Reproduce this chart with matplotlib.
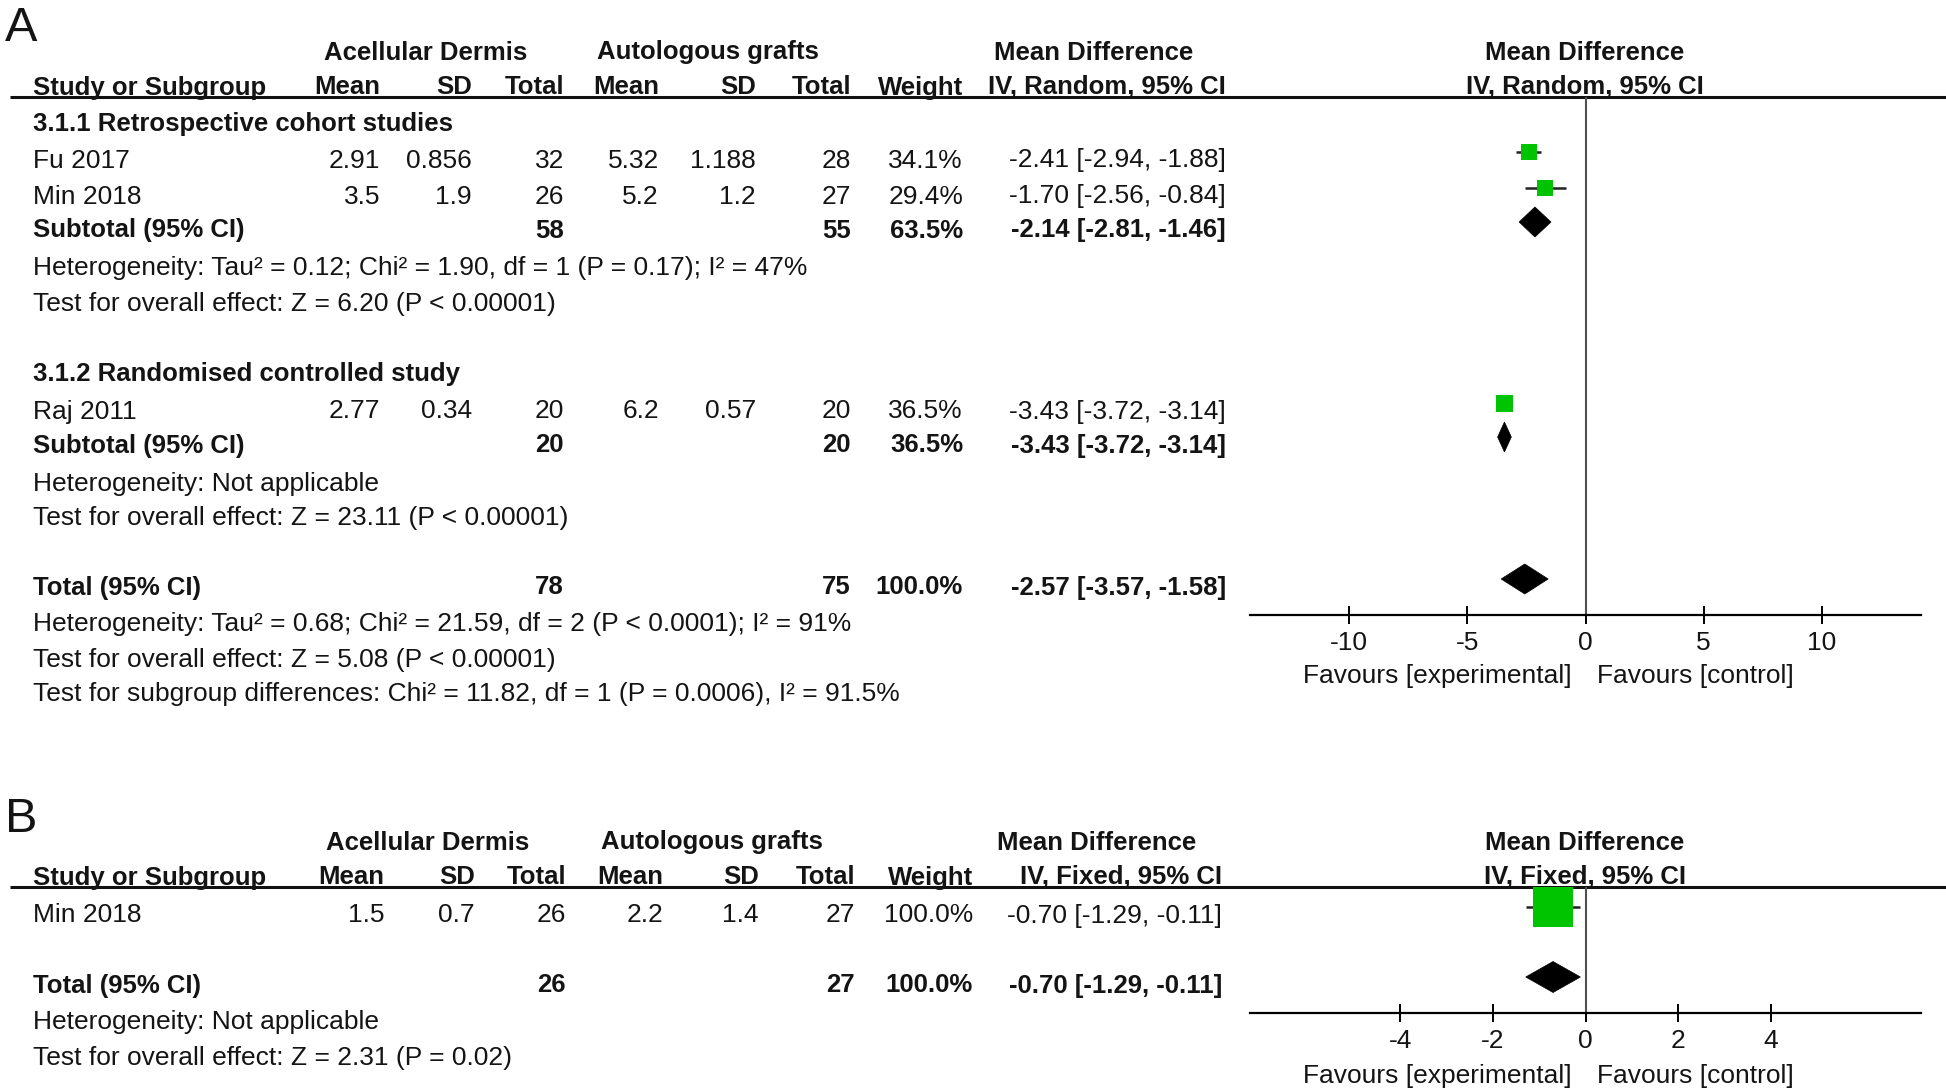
"""
Forest plots: acellular dermis vs autologous grafts (panels A and B).
"""

import numpy as np
import matplotlib

matplotlib.use("Agg")
import matplotlib.pyplot as plt
from matplotlib.patches import Polygon

plt.rcParams["font.family"] = ["Liberation Sans", "DejaVu Sans"]
plt.rcParams["axes.unicode_minus"] = False

# ── Panel A data ──────────────────────────────────────────────────────────────
a_groups = ["3.1.1 Retrospective cohort studies", "3.1.2 Randomised controlled study"]
a_studies = ["Fu 2017", "Min 2018", "Raj 2011"]
a_study_group = [0, 0, 1]
a_exp_mean = [2.91, 3.5, 2.77]
a_exp_sd = [0.856, 1.9, 0.34]
a_exp_n = [32, 26, 20]
a_ctl_mean = [5.32, 5.2, 6.2]
a_ctl_sd = [1.188, 1.2, 0.57]
a_ctl_n = [28, 27, 20]
a_weight = [34.1, 29.4, 36.5]
a_md = [-2.41, -1.70, -3.43]
a_lo = [-2.94, -2.56, -3.72]
a_hi = [-1.88, -0.84, -3.14]

a_sub_exp_n = [58, 20]
a_sub_ctl_n = [55, 20]
a_sub_weight = [63.5, 36.5]
a_sub_md = [-2.14, -3.43]
a_sub_lo = [-2.81, -3.72]
a_sub_hi = [-1.46, -3.14]
a_sub_het = ["Heterogeneity: Tau² = 0.12; Chi² = 1.90, df = 1 (P = 0.17); I² = 47%",
             "Heterogeneity: Not applicable"]
a_sub_test = ["Test for overall effect: Z = 6.20 (P < 0.00001)",
              "Test for overall effect: Z = 23.11 (P < 0.00001)"]

a_tot_exp_n, a_tot_ctl_n, a_tot_weight = 78, 75, 100.0
a_tot_md, a_tot_lo, a_tot_hi = -2.57, -3.57, -1.58
a_tot_notes = ["Heterogeneity: Tau² = 0.68; Chi² = 21.59, df = 2 (P < 0.0001); I² = 91%",
               "Test for overall effect: Z = 5.08 (P < 0.00001)",
               "Test for subgroup differences: Chi² = 11.82, df = 1 (P = 0.0006), I² = 91.5%"]
a_ticks = [-10, -5, 0, 5, 10]
a_xlim = (-14.2, 14.2)

# ── Panel B data ──────────────────────────────────────────────────────────────
b_studies = ["Min 2018"]
b_exp_mean = [1.5]
b_exp_sd = [0.7]
b_exp_n = [26]
b_ctl_mean = [2.2]
b_ctl_sd = [1.4]
b_ctl_n = [27]
b_weight = [100.0]
b_md = [-0.70]
b_lo = [-1.29]
b_hi = [-0.11]

b_tot_exp_n, b_tot_ctl_n, b_tot_weight = 26, 27, 100.0
b_tot_md, b_tot_lo, b_tot_hi = -0.70, -1.29, -0.11
b_tot_notes = ["Heterogeneity: Not applicable",
               "Test for overall effect: Z = 2.31 (P = 0.02)"]
b_ticks = [-4, -2, 0, 2, 4]
b_xlim = (-7.24, 7.24)

# ── Layout / style ────────────────────────────────────────────────────────────
W, H = 1946, 1092
FS, FSB = 19, 18.5
TXT = "#141414"
GREEN = "#00c400"
FOREST_X0, FOREST_X1 = 1250, 1921

fig = plt.figure(figsize=(W / 100, H / 100), dpi=100)
bg = fig.add_axes([0, 0, 1, 1])
bg.set_xlim(0, W); bg.set_ylim(H, 0); bg.axis("off")


def txt(x, yc, s, ha="left", bold=False, size=None):
    bg.text(x, yc + 9.5, s, ha=ha, va="baseline", color=TXT,
            fontsize=size or (FSB if bold else FS), fontweight="bold" if bold else "normal")


def fmt_md(md, lo, hi):
    return f"{md:.2f} [{lo:.2f}, {hi:.2f}]"


def headers(y1, y2, cols, md_right, h1_x, model):
    txt(h1_x[0], y1, "Acellular Dermis", ha="center", bold=True)
    txt(h1_x[1], y1, "Autologous grafts", ha="center", bold=True)
    txt(h1_x[2], y1, "Mean Difference", ha="center", bold=True)
    txt(1585, y1, "Mean Difference", ha="center", bold=True)
    txt(33, y2, "Study or Subgroup", bold=True)
    for x, s in zip(cols, ["Mean", "SD", "Total", "Mean", "SD", "Total", "Weight"]):
        txt(x, y2, s, ha="right", bold=True)
    txt(md_right, y2, f"IV, {model}, 95% CI", ha="right", bold=True)
    txt(1585, y2, f"IV, {model}, 95% CI", ha="center", bold=True)


def forest_axes(xlim, ticks, rule_y, axis_y, fav_y):
    ax = fig.add_axes([FOREST_X0 / W, 0, (FOREST_X1 - FOREST_X0) / W, 1])
    ax.set_xlim(xlim); ax.set_ylim(H, 0)
    ax.patch.set_visible(False)
    for s in ["top", "right", "left"]:
        ax.spines[s].set_visible(False)
    ax.spines["bottom"].set_position(("data", axis_y))
    ax.spines["bottom"].set_linewidth(1.6)
    ax.set_yticks([])
    ax.set_xticks(ticks)
    ax.set_xticklabels([str(t) for t in ticks])
    ax.tick_params(axis="x", direction="inout", length=13, width=1.4, labelsize=FS,
                   pad=5, labelcolor=TXT)
    ax.vlines(0, rule_y, axis_y, color="#505050", lw=1.5)
    txt(1572, fav_y, "Favours [experimental]", ha="right")
    txt(1597, fav_y, "Favours [control]", ha="left")
    return ax


def study_mark(ax, md, lo, hi, y, side):
    ax.hlines(y, lo, hi, color="#222222", lw=1.8, zorder=2)
    ax.scatter([md], [y], marker="s", s=(side * 0.72) ** 2, color=GREEN, linewidths=0, zorder=3)


def diamond(ax, md, lo, hi, y, half):
    ax.add_patch(Polygon([(lo, y), (md, y - half), (hi, y), (md, y + half)],
                         closed=True, facecolor="black", edgecolor="black", lw=0.5, zorder=3))


# ── Panel A ───────────────────────────────────────────────────────────────────
bg.text(5, 41, "A", fontsize=35, color=TXT, va="baseline")
a_cols = [380, 472, 564, 659, 756, 851, 963]
a_mdx = 1226
headers(50, 85, a_cols, a_mdx, [426, 708, 1094], "Random")
bg.hlines(97, 10, W, color="#111111", lw=2.2)

a_group_y = [121, 372]
a_study_y = [158, 194, 409]
a_sub_y = [228, 443]
a_het_y = [266, 481]
a_test_y = [301, 515]
a_tot_y = 585
a_note_y = [622, 657, 692]

axA = forest_axes(a_xlim, a_ticks, 97, 615, 674)
wmax = max(a_weight)
for g, name in enumerate(a_groups):
    txt(33, a_group_y[g], name, bold=True)
for i, name in enumerate(a_studies):
    y = a_study_y[i]
    txt(33, y, name)
    vals = [a_exp_mean[i], a_exp_sd[i], a_exp_n[i], a_ctl_mean[i], a_ctl_sd[i], a_ctl_n[i]]
    for x, v in zip(a_cols, vals):
        txt(x, y, str(v), ha="right")
    txt(a_cols[6], y, f"{a_weight[i]:.1f}%", ha="right")
    txt(a_mdx, y, fmt_md(a_md[i], a_lo[i], a_hi[i]), ha="right")
    study_mark(axA, a_md[i], a_lo[i], a_hi[i], y - 6, 17 * np.sqrt(a_weight[i] / wmax))
for g in range(len(a_groups)):
    y = a_sub_y[g]
    txt(33, y, "Subtotal (95% CI)", bold=True)
    txt(a_cols[2], y, str(a_sub_exp_n[g]), ha="right", bold=True)
    txt(a_cols[5], y, str(a_sub_ctl_n[g]), ha="right", bold=True)
    txt(a_cols[6], y, f"{a_sub_weight[g]:.1f}%", ha="right", bold=True)
    txt(a_mdx, y, fmt_md(a_sub_md[g], a_sub_lo[g], a_sub_hi[g]), ha="right", bold=True)
    diamond(axA, a_sub_md[g], a_sub_lo[g], a_sub_hi[g], y - 6, 15)
    txt(33, a_het_y[g], a_sub_het[g])
    txt(33, a_test_y[g], a_sub_test[g])

txt(33, a_tot_y, "Total (95% CI)", bold=True)
txt(a_cols[2], a_tot_y, str(a_tot_exp_n), ha="right", bold=True)
txt(a_cols[5], a_tot_y, str(a_tot_ctl_n), ha="right", bold=True)
txt(a_cols[6], a_tot_y, f"{a_tot_weight:.1f}%", ha="right", bold=True)
txt(a_mdx, a_tot_y, fmt_md(a_tot_md, a_tot_lo, a_tot_hi), ha="right", bold=True)
diamond(axA, a_tot_md, a_tot_lo, a_tot_hi, a_tot_y - 6, 15)
for y, s in zip(a_note_y, a_tot_notes):
    txt(33, y, s)

# ── Panel B ───────────────────────────────────────────────────────────────────
bg.text(5, 832, "B", fontsize=35, color=TXT, va="baseline")
b_cols = [384, 475, 566, 663, 759, 855, 973]
b_mdx = 1222
headers(840, 875, b_cols, b_mdx, [428, 712, 1097], "Fixed")
bg.hlines(887, 10, W, color="#111111", lw=2.2)

b_study_y = [913]
b_tot_y = 983
b_note_y = [1020, 1056]

axB = forest_axes(b_xlim, b_ticks, 887, 1013, 1073)
for i, name in enumerate(b_studies):
    y = b_study_y[i]
    txt(33, y, name)
    vals = [b_exp_mean[i], b_exp_sd[i], b_exp_n[i], b_ctl_mean[i], b_ctl_sd[i], b_ctl_n[i]]
    for x, v in zip(b_cols, vals):
        txt(x, y, str(v), ha="right")
    txt(b_cols[6], y, f"{b_weight[i]:.1f}%", ha="right")
    txt(b_mdx, y, fmt_md(b_md[i], b_lo[i], b_hi[i]), ha="right")
    study_mark(axB, b_md[i], b_lo[i], b_hi[i], y - 6, 40 * np.sqrt(b_weight[i] / max(b_weight)))

txt(33, b_tot_y, "Total (95% CI)", bold=True)
txt(b_cols[2], b_tot_y, str(b_tot_exp_n), ha="right", bold=True)
txt(b_cols[5], b_tot_y, str(b_tot_ctl_n), ha="right", bold=True)
txt(b_cols[6], b_tot_y, f"{b_tot_weight:.1f}%", ha="right", bold=True)
txt(b_mdx, b_tot_y, fmt_md(b_tot_md, b_tot_lo, b_tot_hi), ha="right", bold=True)
diamond(axB, b_tot_md, b_tot_lo, b_tot_hi, b_tot_y - 6, 15.5)
for y, s in zip(b_note_y, b_tot_notes):
    txt(33, y, s)

fig.savefig("out.png", dpi=100)
